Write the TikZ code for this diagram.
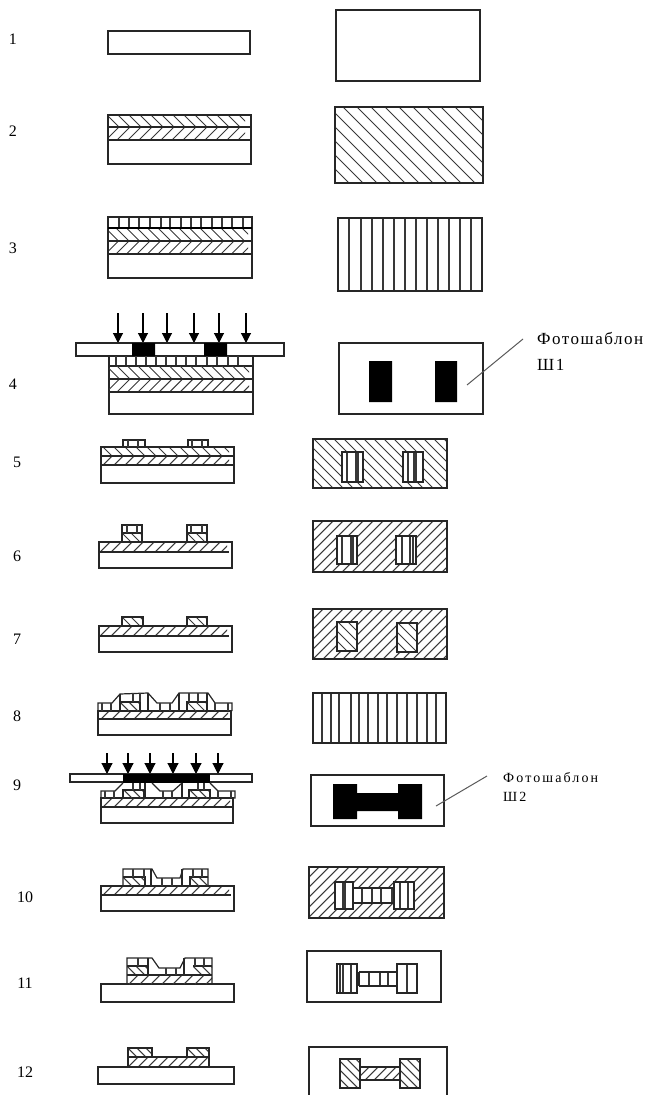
\documentclass[tikz,border=0pt]{standalone}
\usepackage{fontspec}
\setmainfont{Liberation Serif}
\usetikzlibrary{arrows.meta}
\tikzset{
  ln/.style={line width=1.2pt,draw=black!85},
  th/.style={line width=1.05pt,draw=black!78},
  ray/.style={line width=1.1pt,draw=black,-{Triangle[length=10pt,width=10pt]}},
  rayb/.style={line width=1.1pt,draw=black,-{Triangle[length=11pt,width=11pt]}},
  lead/.style={line width=1pt,draw=black!65},
  num/.style={font=\fontsize{16}{16}\selectfont,anchor=center,inner sep=0pt},
  capa/.style={font=\fontsize{17}{18}\selectfont,anchor=west,inner sep=0pt},
  capb/.style={font=\fontsize{14}{18}\selectfont,anchor=west,inner sep=0pt}
}
% "\" hatching  x1 y1 x2 y2 spacing
\newcommand\hatD[5]{\begin{scope}\clip (#1,#2) rectangle (#3,#4);
 \pgfmathsetmacro\hh{#4-#2}\pgfmathtruncatemacro\nn{(#3-#1+\hh)/#5+1}
 \foreach \k in {0,...,\nn}{\draw[th] ({#1-\hh+\k*#5},#2) -- ++(\hh,\hh);}
 \end{scope}}
% "/" hatching
\newcommand\hatU[5]{\begin{scope}\clip (#1,#2) rectangle (#3,#4);
 \pgfmathsetmacro\hh{#4-#2}\pgfmathtruncatemacro\nn{(#3-#1+\hh)/#5+1}
 \foreach \k in {0,...,\nn}{\draw[th] ({#1+\k*#5},#2) -- ++(-\hh,\hh);}
 \end{scope}}
% vertical ticks: y1 y2 {x list}
\newcommand\vt[3]{\foreach \xx in {#3}{\draw[th] (\xx,#1) -- (\xx,#2);}}
\newcommand\bx[4]{\draw[ln] (#1,#2) rectangle (#3,#4);}
\begin{document}
\begin{tikzpicture}[x=1pt,y=-1pt]
\useasboundingbox (0,0) rectangle (648,1095);
% numbers
\node[num] (n1) at (13,39) {1};
\node[num] (n2) at (13,131) {2};
\node[num] (n3) at (13,248) {3};
\node[num] (n4) at (13,384) {4};
\node[num] (n5) at (17,462) {5};
\node[num] (n6) at (17,556) {6};
\node[num] (n7) at (17,639) {7};
\node[num] (n8) at (17,716) {8};
\node[num] (n9) at (17,785) {9};
\node[num] (n10) at (25,897) {10};
\node[num] (n11) at (25,983) {11};
\node[num] (n12) at (25,1072) {12};

% row 1
\bx{108}{31}{250}{54}
\bx{336}{10}{480}{81}
% row 2
\hatD{108}{115}{245}{127}{11}
\hatU{108}{127}{245}{140}{11}
\bx{108}{115}{251}{164}
\draw[ln] (108,127) -- (251,127) (108,140) -- (251,140);
\hatD{335}{107}{483}{183}{14}
\bx{335}{107}{483}{183}
% row 3
\vt{217}{228}{119,129,139,150,161,170,181,191,201,212,222,232,243}
\bx{108}{217}{252}{228}
\hatD{108}{228}{248}{241}{10.5}
\hatU{108}{241}{248}{254}{10.5}
\bx{108}{228}{252}{278}
\draw[ln] (108,241) -- (252,241) (108,254) -- (252,254);
\draw[line width=1.7pt] (108,228) -- (252,228);
\vt{218}{291}{349,361,372,383,394,405,416,427,438,449,460,471}
\bx{338}{218}{482}{291}
% row 4
\foreach \i/\xa in {1/118,2/143,3/167,4/194,5/219,6/246}{
  \coordinate (ra\i) at (\xa,313);
  \coordinate (rb\i) at (\xa,343);
  \draw[ray] (ra\i) -- (rb\i);
}
\bx{76}{343}{284}{356}
\fill[black] (132,343) rectangle (155,356) (204,343) rectangle (227,356);
\vt{356}{366}{116,126,136,146,156,166,176,186,196,207,217,228,238}
\draw[ln] (109,356) -- (109,414) -- (253,414) -- (253,356);
\draw[ln] (109,366) -- (253,366);
\hatD{109}{366}{249}{379}{10.5}
\hatU{109}{379}{249}{392}{10.5}
\draw[ln] (109,379) -- (253,379) (109,392) -- (253,392);
\bx{339}{343}{483}{414}
\fill[black] (369,361) rectangle (392,402) (435,361) rectangle (457,402);
\coordinate (l1a) at (467,385);
\coordinate (l1b) at (523,339);
\draw[lead] (l1a) -- (l1b);
\node[capa] (c1) at (537,338) {\addfontfeature{LetterSpace=9}Фотошаблон};
\node[capa] (c1b) at (537,365) {\addfontfeature{LetterSpace=9}Ш1};

% row 5
\hatD{101}{447}{229}{456}{11}
\hatU{101}{456}{229}{465}{11}
\bx{101}{447}{234}{483}
\draw[ln] (101,456) -- (234,456) (101,465) -- (234,465);
\bx{123}{440}{145}{447}
\bx{188}{440}{208}{447}
\vt{440}{447}{128,138,192,202}
\hatD{313}{439}{447}{488}{10}
\bx{313}{439}{447}{488}
\fill[white] (342,452) rectangle (363,482) (403,452) rectangle (423,482);
\vt{452}{482}{347,356,358,408,414,416}
\bx{342}{452}{363}{482}
\bx{403}{452}{423}{482}
% row 6
\hatU{99}{542}{227}{552}{11}
\bx{99}{542}{232}{568}
\draw[ln] (99,552) -- (229,552);
\hatD{122}{533}{142}{542}{9}
\hatD{187}{533}{207}{542}{9}
\bx{122}{525}{142}{542}
\bx{187}{525}{207}{542}
\draw[ln] (122,533) -- (142,533) (187,533) -- (207,533);
\vt{525}{533}{127,137,191,202}
\hatU{313}{521}{447}{572}{10}
\bx{313}{521}{447}{572}
\fill[white] (337,536) rectangle (357,564) (396,536) rectangle (416,564);
\vt{536}{564}{342,351,353,402,410,413}
\bx{337}{536}{357}{564}
\bx{396}{536}{416}{564}
% row 7
\hatU{99}{626}{227}{636}{11}
\bx{99}{626}{232}{652}
\draw[ln] (99,636) -- (229,636);
\hatD{122}{617}{143}{626}{9}
\hatD{187}{617}{207}{626}{9}
\bx{122}{617}{143}{626}
\bx{187}{617}{207}{626}
\hatU{313}{609}{447}{659}{10}
\bx{313}{609}{447}{659}
\fill[white] (337,622) rectangle (357,651) (397,623) rectangle (417,652);
\hatD{337}{622}{357}{651}{10}
\hatD{397}{623}{417}{652}{10}
\bx{337}{622}{357}{651}
\bx{397}{623}{417}{652}

% row 8
\hatU{98}{711}{228}{719}{11}
\bx{98}{711}{231}{735}
\draw[ln] (98,719) -- (231,719);
\hatD{120}{702}{140}{711}{9}
\hatD{187}{702}{207}{711}{9}
\draw[ln] (98,711) -- (98,703) -- (112,703) -- (120,694) -- (148,693) -- (157,703) -- (172,703) -- (179,693) -- (208,693) -- (215,703) -- (232,703) -- (232,711);
\draw[ln] (120,711) -- (120,694) (120,702) -- (140,702) -- (140,711) (187,711) -- (187,702) -- (207,702) -- (207,693) (207,702) -- (207,711);
\draw[ln] (148,693) -- (148,711) (179,693) -- (179,711);
\vt{703}{711}{102,111,160,170,215,228}
\vt{693}{702}{133,140,189,198}
% row 8 right
\vt{693}{743}{322,331,339,351,359,368,378,387,397,407,417,427,436}
\bx{313}{693}{446}{743}

% row 9
\foreach \i/\xa in {1/107,2/128,3/150,4/173,5/196,6/218}{
  \coordinate (sa\i) at (\xa,753);
  \coordinate (sb\i) at (\xa,774);
  \draw[rayb] (sa\i) -- (sb\i);
}
\bx{70}{774}{252}{782}
\fill[black] (123,773.5) rectangle (210,782.5);
\hatU{101}{798}{230}{807}{11}
\bx{101}{798}{233}{823}
\draw[ln] (101,807) -- (233,807);
\hatD{123}{790}{144}{798}{9}
\hatD{189}{790}{210}{798}{9}
\draw[ln] (101,798) -- (101,791) -- (115,791) -- (123,783) (210,783) -- (218,791) -- (235,791) -- (235,798) -- (233,798);
\draw[ln] (152,783) -- (160,791) -- (173,791) -- (182,783);
\draw[ln] (123,798) -- (123,790) -- (144,790) -- (144,798) (189,798) -- (189,790) -- (210,790) -- (210,798);
\draw[ln] (145,783) -- (145,798) (182,783) -- (182,798);
\vt{791}{798}{105,114,163,172,218,231}
\vt{783}{790}{133,140,198,204}
\bx{311}{775}{444}{826}
\fill[black] (333,784) rectangle (357,819) (357,793) rectangle (398,811) (398,784) rectangle (422,819);
\coordinate (l2a) at (436,806);
\coordinate (l2b) at (487,776);
\draw[lead] (l2a) -- (l2b);
\node[capb] (c2) at (503,778) {\addfontfeature{LetterSpace=15}Фотошаблон};
\node[capb] (c2b) at (503,797) {\addfontfeature{LetterSpace=15}Ш2};

% row 10
\hatU{101}{886}{229}{895}{11}
\bx{101}{886}{234}{911}
\draw[ln] (101,895) -- (231,895);
\hatD{123}{877}{145}{886}{9}
\hatD{190}{877}{208}{886}{9}
\draw[ln] (123,886) -- (123,869) -- (152,869) -- (157,878) -- (180,878) -- (183,869) -- (208,869) -- (208,886);
\draw[ln] (123,877) -- (145,877) -- (145,886) (190,886) -- (190,877) -- (208,877);
\draw[ln] (151,869) -- (151,886) (182,869) -- (182,886);
\vt{878}{886}{162,172}
\vt{869}{877}{133,144,193,202}
\hatU{309}{867}{444}{918}{10}
\bx{309}{867}{444}{918}
\fill[white] (335,882) rectangle (353,909) (353,888) rectangle (394,903) (394,882) rectangle (414,909);
\vt{882}{909}{343,345,400,408}
\vt{888}{903}{362,372,381,392}
\draw[ln] (335,882) rectangle (353,909);
\draw[ln] (394,882) rectangle (414,909);
\draw[ln] (353,888) -- (394,888) (353,903) -- (394,903);

% row 11
\bx{101}{984}{234}{1002}
\hatU{127}{975}{212}{984}{11}
\hatD{127}{966}{148}{975}{9}
\hatD{193}{966}{212}{975}{9}
\draw[ln] (127,984) -- (127,958) -- (152,958) -- (159,968) -- (180,968) -- (185,958) -- (212,958) -- (212,984);
\draw[ln] (127,975) -- (212,975) (127,966) -- (148,966) (193,966) -- (212,966);
\draw[ln] (148,958) -- (148,975) (184,958) -- (184,975);
\vt{958}{966}{138,195,204}
\vt{968}{975}{166,176}
\bx{307}{951}{441}{1002}
\vt{964}{993}{340,343,351,407}
\vt{972}{986}{369,380,388}
\draw[ln] (337,964) rectangle (357,993);
\draw[ln] (397,964) rectangle (417,993);
\draw[ln] (359,972) -- (397,972) (359,986) -- (397,986) (359,972) -- (359,986);

% row 12
\bx{98}{1067}{234}{1084}
\hatU{128}{1057}{209}{1067}{10}
\hatD{128}{1048}{152}{1057}{9}
\hatD{187}{1048}{209}{1057}{9}
\bx{128}{1057}{209}{1067}
\draw[ln] (128,1057) -- (128,1048) -- (152,1048) -- (152,1057) (187,1057) -- (187,1048) -- (209,1048) -- (209,1057);
\draw[ln] (309,1095) -- (309,1047) -- (447,1047) -- (447,1095);
\hatD{340}{1059}{360}{1088}{9}
\hatD{400}{1059}{420}{1088}{9}
\hatU{360}{1067}{400}{1080}{9}
\draw[ln] (340,1059) rectangle (360,1088);
\draw[ln] (400,1059) rectangle (420,1088);
\draw[ln] (360,1067) -- (400,1067) (360,1080) -- (400,1080);
\end{tikzpicture}
\end{document}
